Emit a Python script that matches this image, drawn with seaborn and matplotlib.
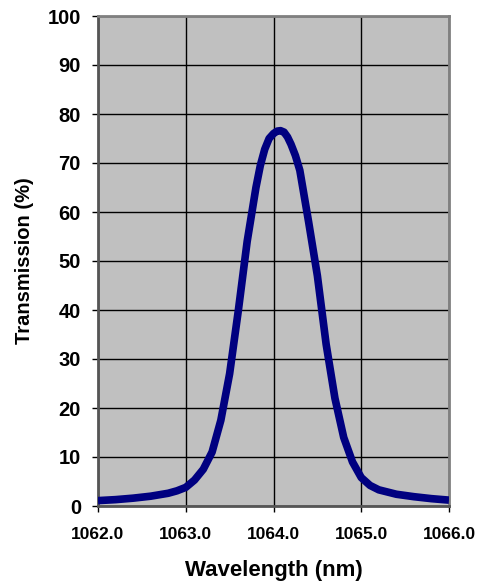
import matplotlib
matplotlib.use("Agg")
import matplotlib.pyplot as plt
import seaborn as sns
import pandas as pd

wavelength = [1062.0, 1062.2, 1062.4, 1062.6, 1062.8, 1062.9, 1063.0, 1063.1, 1063.2,
              1063.3, 1063.4, 1063.5, 1063.6, 1063.7, 1063.8, 1063.85, 1063.9, 1063.95,
              1064.0, 1064.04, 1064.08, 1064.12, 1064.16, 1064.2, 1064.25, 1064.3,
              1064.4, 1064.5, 1064.55, 1064.6, 1064.7, 1064.8, 1064.9, 1065.0, 1065.1,
              1065.2, 1065.4, 1065.6, 1065.8, 1066.0]
transmission = [1.1, 1.3, 1.6, 2.0, 2.6, 3.1, 3.8, 5.3, 7.5,
                11.0, 17.5, 27.0, 40.0, 54.0, 65.0, 69.5, 72.8, 75.0,
                76.0, 76.5, 76.6, 76.3, 75.3, 73.8, 71.5, 68.5,
                58.0, 47.0, 40.0, 33.0, 22.0, 14.0, 9.0, 5.8, 4.2,
                3.3, 2.4, 1.9, 1.5, 1.2]
x_ticks = [1062.0, 1063.0, 1064.0, 1065.0, 1066.0]
y_ticks = [0, 10, 20, 30, 40, 50, 60, 70, 80, 90, 100]

df = pd.DataFrame({"Wavelength (nm)": wavelength, "Transmission (%)": transmission})

sns.set_style("ticks")
plt.rcParams['font.family'] = ['Liberation Sans', 'DejaVu Sans']
plt.rcParams['text.color'] = 'black'
plt.rcParams['axes.labelcolor'] = 'black'
plt.rcParams['xtick.color'] = 'black'
plt.rcParams['ytick.color'] = 'black'

fig = plt.figure(figsize=(4.79, 5.84), dpi=100)
ax = fig.add_axes([98/479, 78/584, 351/479, 490/584])
ax.set_facecolor("#C0C0C0")

sns.lineplot(data=df, x="Wavelength (nm)", y="Transmission (%)", ax=ax,
             color="#000080", linewidth=5.5, zorder=3,
             solid_joinstyle="round", solid_capstyle="butt")

ax.set_xlim(1062, 1066)
ax.set_ylim(0, 100)
ax.set_xticks(x_ticks)
ax.set_xticklabels([f"{v:.1f}" for v in x_ticks], fontsize=12.5, fontweight="bold")
ax.set_yticks(y_ticks)
ax.set_yticklabels([str(v) for v in y_ticks], fontsize=14.5, fontweight="bold")
ax.grid(True, color="black", linewidth=1.0, zorder=1)
ax.set_axisbelow(True)
ax.tick_params(axis="both", direction="out", length=4.3, width=1, color="black")
ax.tick_params(axis="y", pad=8)
ax.tick_params(axis="x", pad=11)

ax.set_xlabel("Wavelength (nm)", fontsize=16, fontweight="bold", labelpad=13)
ax.set_ylabel("Transmission (%)", fontsize=14.5, fontweight="bold", labelpad=10)

for side in ["left", "bottom"]:
    ax.spines[side].set_color("#555555")
    ax.spines[side].set_linewidth(2)
for side in ["top", "right"]:
    ax.spines[side].set_visible(True)
    ax.spines[side].set_color("#808080")
    ax.spines[side].set_linewidth(2)

fig.savefig("out.png", dpi=100)
